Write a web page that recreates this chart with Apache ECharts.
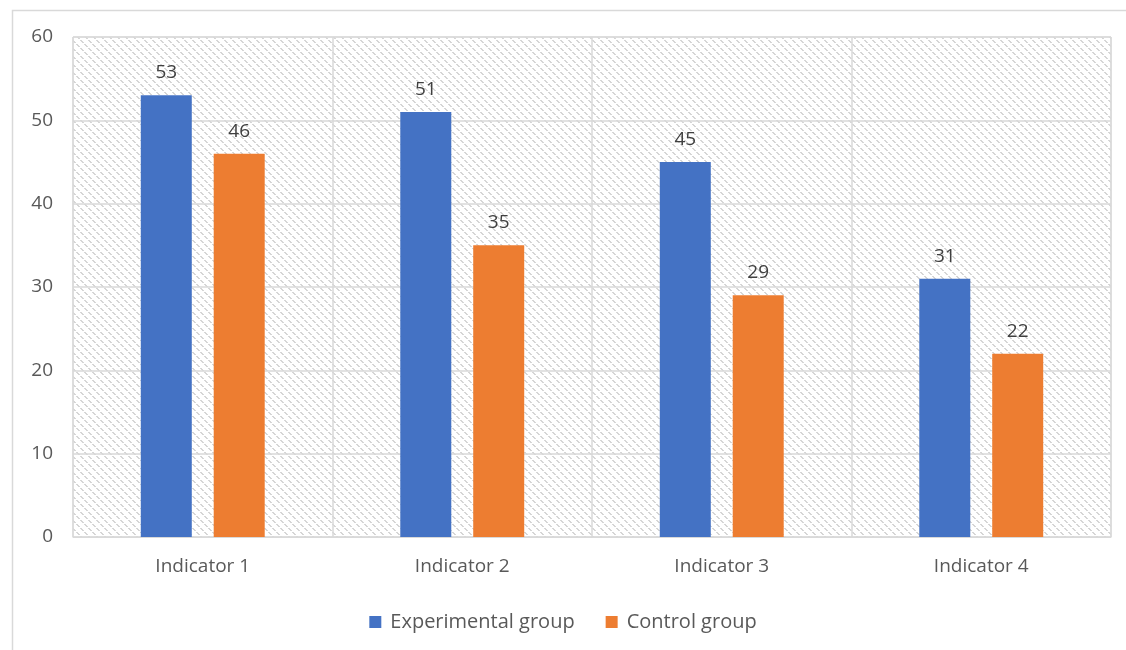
<!DOCTYPE html>
<html>
<head>
<meta charset="utf-8">
<script src="https://cdn.jsdelivr.net/npm/echarts@6/dist/echarts.min.js"></script>
<style>
  html, body { margin: 0; padding: 0; background: #fff; }
  #chart { width: 1126px; height: 650px; }
</style>
</head>
<body>
<div id="chart"></div>
<script>
const categories = ['Indicator 1', 'Indicator 2', 'Indicator 3', 'Indicator 4'];
const experimental = [53, 51, 45, 31];
const control = [46, 35, 29, 22];
const seriesNames = ['Experimental group', 'Control group'];

// hatch tile for the plot background (downward diagonal)
const makeHatch = () => {
  const c = document.createElement('canvas');
  c.width = 8;
  c.height = 8;
  const ctx = c.getContext('2d');
  ctx.fillStyle = '#ffffff';
  ctx.fillRect(0, 0, 8, 8);
  ctx.fillStyle = '#d6d6d6';
  for (let i = 0; i < 8; i++) {
    if (i % 4 === 3) continue;
    ctx.fillRect(i, i, 2, 1);
  }
  return c;
};

const chart = echarts.init(document.getElementById('chart'));
const font = '"Open Sans", sans-serif';

const option = {
  animation: false,
  textStyle: { fontFamily: font },
  graphic: [{
    type: 'rect',
    left: 10, top: 8,
    shape: { width: 1140, height: 700 },
    style: { fill: 'none', stroke: '#d9d9d9', lineWidth: 1.5 },
    silent: true
  }],
  grid: {
    left: 73, right: 15, top: 37, bottom: 113,
    show: true,
    backgroundColor: { image: makeHatch(), repeat: 'repeat' },
    borderColor: '#d9d9d9',
    borderWidth: 1
  },
  legend: {
    data: seriesNames,
    top: 607,
    left: 'center',
    itemWidth: 12,
    itemHeight: 12,
    itemGap: 31,
    icon: 'rect',
    textStyle: { fontSize: 20, color: '#595959', fontFamily: font, padding: [0, 0, 0, 4] }
  },
  xAxis: {
    type: 'category',
    data: categories,
    axisLine: { lineStyle: { color: '#d9d9d9' } },
    axisTick: { show: false },
    splitLine: { show: true, lineStyle: { color: '#d9d9d9', width: 1.5 } },
    axisLabel: { fontSize: 19, color: '#595959', margin: 20, fontFamily: font }
  },
  yAxis: {
    type: 'value',
    min: 0, max: 60, interval: 10,
    axisLine: { show: false },
    axisTick: { show: false },
    splitLine: { lineStyle: { color: '#d9d9d9', width: 1.5 } },
    axisLabel: { fontSize: 19, color: '#595959', margin: 20, fontFamily: font }
  },
  series: [
    {
      name: seriesNames[0],
      type: 'bar',
      data: experimental,
      barWidth: 51,
      barGap: '43%',
      itemStyle: { color: '#4472c4' },
      label: { show: true, position: 'top', distance: 13, fontSize: 19, color: '#404040', fontFamily: font }
    },
    {
      name: seriesNames[1],
      type: 'bar',
      data: control,
      barWidth: 51,
      barGap: '43%',
      itemStyle: { color: '#ed7d31' },
      label: { show: true, position: 'top', distance: 13, fontSize: 19, color: '#404040', fontFamily: font }
    }
  ]
};
chart.setOption(option);
</script>
</body>
</html>
